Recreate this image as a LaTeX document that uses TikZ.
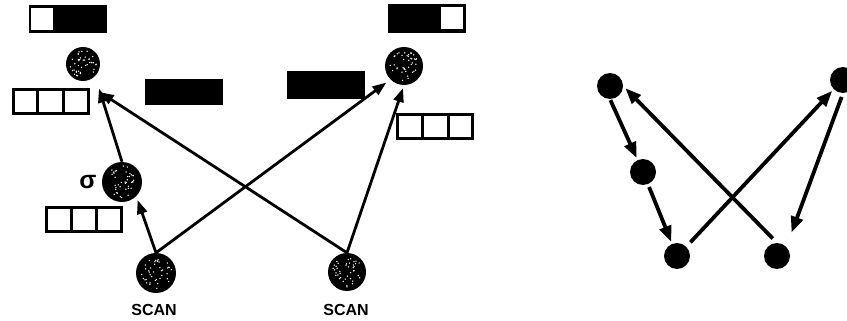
\documentclass[tikz,border=0pt]{standalone}
\usepackage{fontspec}
\setmainfont{Liberation Sans}
\usetikzlibrary{arrows.meta,calc}

\tikzset{
  stipnode/.style={circle, fill=black, inner sep=0pt, minimum size=#1},
  dotnode/.style={circle, fill=black, inner sep=0pt, minimum size=26pt},
  tribox/.style={draw=black, line width=3pt, fill=white, inner sep=0pt,
                 minimum width=75pt, minimum height=24pt},
  blackbox/.style={fill=black, inner sep=0pt, minimum width=78pt, minimum height=#1},
  whitesq/.style={fill=white, inner sep=0pt, minimum size=22pt},
  arr/.style={line width=2.8pt, -{Triangle[length=14pt,width=10pt]}},
  bigarr/.style={line width=3.8pt, -{Triangle[length=16pt,width=12pt]}},
  scanlabel/.style={font=\bfseries\fontsize{16}{16}\selectfont, inner sep=0pt},
}

% white speckles scattered over a filled circle
\newcommand\stipple[2]{%
  \foreach \k in {1,...,40}{%
    \pgfmathsetmacro\sang{rnd*360}%
    \pgfmathsetmacro\srad{sqrt(rnd)*0.8*#2}%
    \fill[white] ($(#1)+(\sang:\srad)$) circle[radius=0.75pt];
  }%
}

% splits a three-cell box into equal cells
\newcommand\cells[1]{%
  \draw[line width=3pt] ($(#1.north west)!1/3!(#1.north east)$) -- ($(#1.south west)!1/3!(#1.south east)$);
  \draw[line width=3pt] ($(#1.north west)!2/3!(#1.north east)$) -- ($(#1.south west)!2/3!(#1.south east)$);
}

\begin{document}
\begin{tikzpicture}[x=1pt, y=-1pt]
\useasboundingbox (0,0) rectangle (847,321);
\pgfmathsetseed{4711}

% ---------- left graph: stippled nodes ----------
\node[stipnode=34pt] (A) at (83,64) {};
\node[stipnode=38pt] (B) at (404,66) {};
\node[stipnode=40pt] (C) at (122,182) {};
\node[stipnode=40pt] (D) at (156,273) {};
\node[stipnode=38pt] (E) at (347,272) {};
\stipple{A}{17}
\stipple{B}{19}
\stipple{C}{20}
\stipple{D}{20}
\stipple{E}{19}

% status bars
\node[blackbox=28pt] (barA) at (67.5,19) {};
\node[whitesq] (sqA) at (42,19.5) {};
\node[blackbox=29pt] (barB) at (426.5,18.5) {};
\node[whitesq] (sqB) at (452,18.5) {};

% solid black boxes
\node[blackbox=26pt] (kA) at (184,92) {};
\node[blackbox=28pt] (kB) at (326,85) {};

% three-cell boxes
\node[tribox] (tA) at (51,101.5) {};
\node[tribox] (tC) at (84,219) {};
\node[tribox] (tB) at (435,126.5) {};
\cells{tA}
\cells{tC}
\cells{tB}

% labels
\node[font=\bfseries\fontsize{25}{25}\selectfont, inner sep=0pt] (sig) at (88,182) {σ};
\node[scanlabel] (sD) at (154,310) {SCAN};
\node[scanlabel] (sE) at (346,310) {SCAN};

% edges
\draw[arr, shorten >=4pt] (D.north) -- (C.south east);
\draw[arr, shorten >=13pt] (C.north) -- (A.south east);
\draw[arr, shorten >=20pt] (E.north) -- (A.south);
\draw[arr, shorten >=5pt] (D.north) -- (B.south west);
\draw[arr, shorten >=3pt] (E.north) -- (B.south);

% ---------- right graph: plain dots ----------
\node[dotnode] (P1) at (610,86) {};
\node[dotnode] (P2) at (643,172) {};
\node[dotnode] (P3) at (677,256) {};
\node[dotnode] (P4) at (777,256) {};
\node[dotnode] (P5) at (843,80) {};

\draw[bigarr, shorten <=1pt, shorten >=2pt] (P1.south) -- (P2);
\draw[bigarr, shorten <=3pt, shorten >=2pt] (P2) -- (P3);
\draw[bigarr, shorten <=6pt, shorten >=3pt] (P4.north) -- (P1.east);
\draw[bigarr, shorten <=6pt, shorten >=2pt] (P3.north east) -- (P5.south west);
\draw[bigarr, shorten <=4pt, shorten >=15pt] (P5.south) -- (P4.north east);
\end{tikzpicture}
\end{document}
